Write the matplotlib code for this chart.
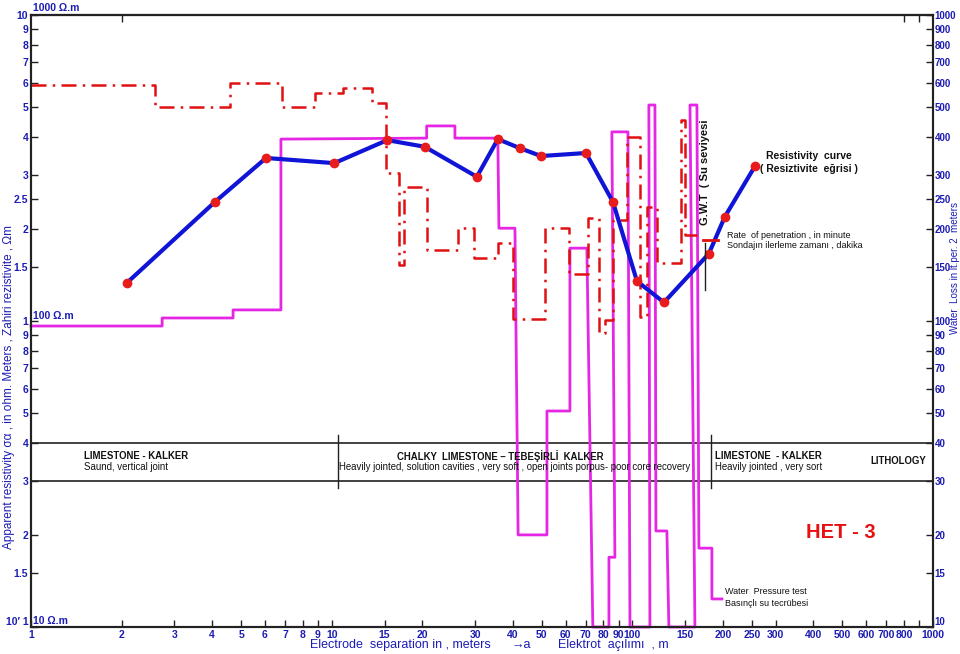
import matplotlib
matplotlib.use("Agg")
import matplotlib.pyplot as plt

plt.rcParams["font.family"] = ["Liberation Sans", "DejaVu Sans"]

BLUE_TXT = "#1c1cb4"
CURVE = "#0f14d6"
DOT = "#e81c1c"
RED = "#e01010"
MAGENTA = "#e526e5"

# apparent resistivity sounding (electrode spacing a, ohm.m)
spacing = [2.08, 4.09, 6.05, 10.2, 15.3, 20.4, 30.4, 35.7, 42.3, 49.7, 70.1, 86.2,
           103.6, 127.4, 179.7, 203, 256]
resistivity = [133, 245, 341, 328, 390, 371, 296, 393, 367, 346, 354, 245,
               135, 115, 166, 219, 321]

# rate of penetration, step curve: depth edges and level per step
pen_edges = [1, 2.585, 4.59, 6.83, 8.80, 10.9, 13.6, 15.2, 16.7, 17.4, 20.7, 26.3, 29.7,
             35.7, 40.1, 51.2, 61.5, 71.2, 77.4, 81.1, 86.2, 95.9, 106, 111.8, 120.7,
             145, 149.6, 164]
pen_rate = [590, 500, 600, 500, 556, 577, 516, 304, 152, 274, 171, 201, 161, 180,
            101.5, 201, 142, 217, 91.4, 100.7, 214, 399, 103, 236, 155, 454, 191]

# water pressure test, water loss (lt per 2 m)
wp_depth = [1, 2.73, 2.73, 4.70, 4.70, 6.78, 6.78, 20.7, 20.7, 25.7, 25.7, 35.7, 36.0,
            40.7, 41.7, 52.0, 52.0, 62.0, 62.0, 70.6, 73.9, 83.6, 83.6, 87.5, 85.5, 96.7,
            98.2, 114.4, 113.5, 118.9, 119.8, 130.3, 132.3, 161.5, 155.5, 164, 166.5,
            183.9, 183.9, 198.6]
wp_loss = [96.3, 96.3, 102.3, 102.3, 108.7, 108.7, 393, 396, 434, 434, 396, 396, 201,
           201, 20.0, 20.0, 50.8, 50.8, 173, 173, 10, 10, 16.9, 16.9, 415, 415, 10, 10,
           508, 508, 20.6, 20.6, 10, 10, 508, 508, 18.1, 18.1, 12.35, 12.35]

litho_band = [30, 40]
litho_breaks = [10.5, 182]
litho_span = [28.5, 42.4]

# legend sample for the penetration curve and the ground water table mark
pen_key_x = [172, 193]
pen_key_y = [184, 184]
gwt_x = [174, 174]
gwt_y = [126, 180]

x_ticks = [1, 2, 3, 4, 5, 6, 7, 8, 9, 10, 15, 20, 30, 40, 50, 60, 70, 80, 90, 100, 150,
           200, 250, 300, 400, 500, 600, 700, 800, 900, 1000]
x_labels = [str(t) if t != 900 else "" for t in x_ticks]
y_ticks = [10, 15, 20, 30, 40, 50, 60, 70, 80, 90, 100, 150, 200, 250, 300, 400, 500,
           600, 700, 800, 900, 1000]
y_left_labels = ["10\u2032 1", "1.5", "2", "3", "4", "5", "6", "7", "8", "9", "1", "1.5",
                 "2", "2.5", "3", "4", "5", "6", "7", "8", "9", "10"]
y_right_labels = [str(t) for t in y_ticks]

W, H = 960, 654
NARROW = ["Liberation Sans Narrow", "Liberation Sans", "DejaVu Sans"]


def at(x, y):
    return x / W, 1 - y / H


def tick_font(labels, size=7.5):
    for lab in labels:
        lab.set_fontweight("bold")
        lab.set_family(NARROW)
        lab.set_fontsize(size)


fig = plt.figure(figsize=(9.6, 6.54), dpi=100)
ax = fig.add_axes([31 / W, 1 - 627 / H, 902 / W, 612 / H])
ax.set_xscale("log")
ax.set_yscale("log")
ax.set_xlim(1, 1000)
ax.set_ylim(10, 1000)

# lithology band
for v in litho_band:
    ax.axhline(v, color="#222222", lw=1.2)
for b in litho_breaks:
    ax.plot([b, b], litho_span, color="#222222", lw=1.0)

ax.plot(wp_depth, wp_loss, color=MAGENTA, lw=2, clip_on=False, zorder=3)
ax.plot(pen_edges, pen_rate + [pen_rate[-1]], drawstyle="steps-post", color=RED, lw=1.8,
        linestyle=(0, (6, 2.5, 1, 2.5)), zorder=4)
ax.plot(spacing, resistivity, color=CURVE, lw=3, zorder=5)
ax.plot(spacing, resistivity, "o", color=DOT, ms=6, zorder=6)

ax.plot(pen_key_x, pen_key_y, color=RED, lw=2, zorder=6)
ax.plot(gwt_x, gwt_y, color="#222222", lw=1.0, zorder=6)

ax.set_xticks(x_ticks)
ax.set_xticklabels(x_labels)
ax.xaxis.set_minor_locator(matplotlib.ticker.NullLocator())
ax.set_yticks(y_ticks)
ax.set_yticklabels(y_left_labels)
ax.yaxis.set_minor_locator(matplotlib.ticker.NullLocator())
ax.tick_params(direction="in", length=5, width=1, pad=2,
               labelcolor=BLUE_TXT, color="#222222")
tick_font(ax.get_xticklabels() + ax.get_yticklabels())
ax.get_yticklabels()[0].set_va("bottom")

right = ax.twinx()
right.set_yscale("log")
right.set_ylim(10, 1000)
right.set_yticks(y_ticks)
right.set_yticklabels(y_right_labels)
right.yaxis.set_minor_locator(matplotlib.ticker.NullLocator())
right.tick_params(direction="in", length=5, width=1, pad=1,
                  labelcolor=BLUE_TXT, color="#222222")
tick_font(right.get_yticklabels(), 7)
right.get_yticklabels()[0].set_va("bottom")

top = ax.secondary_xaxis("top")
top.set_xticks([2, 800, 900])
top.set_xticklabels([])
top.tick_params(direction="in", length=5, width=1, color="#222222")
top.xaxis.set_minor_locator(matplotlib.ticker.NullLocator())

for s in list(ax.spines.values()) + list(right.spines.values()) + list(top.spines.values()):
    s.set_color("#222222")
    s.set_linewidth(1.5)

# scale captions
for x, y, t in ((33, 8, "1000 \u03a9.m"), (33, 316, "100 \u03a9.m"), (33, 621, "10 \u03a9.m")):
    fig.text(*at(x, y), t, color=BLUE_TXT, fontsize=7.5, fontweight="bold", va="center")

# axis titles
fig.text(*at(9, 387), "Apparent resistivity \u03c3\u03b1 , in ohm. Meters , Zahiri rezistivite , \u03a9m",
         rotation=90, ha="center", va="center", color=BLUE_TXT, fontsize=8.5)
fig.text(*at(960, 268), "Water  Loss in lt.per. 2  meters", rotation=90, ha="right",
         va="center", color=BLUE_TXT, fontsize=7)
fig.text(*at(310, 645), "Electrode  separation in , meters", color=BLUE_TXT, fontsize=9, va="center")
fig.text(*at(512, 645), "\u2192a", color=BLUE_TXT, fontsize=9, va="center")
fig.text(*at(558, 645), "Elektrot  a\u00e7\u0131l\u0131m\u0131  , m", color=BLUE_TXT, fontsize=9, va="center")

# lithology descriptions
lt = dict(color="#111111", fontsize=6.9, family=NARROW, va="center")
fig.text(*at(84, 456), "LIMESTONE - KALKER", fontweight="bold", **lt)
fig.text(*at(84, 467), "Saund, vertical joint", **lt)
fig.text(*at(500, 456), "CHALKY  LIMESTONE \u2013 TEBE\u015e\u0130RL\u0130  KALKER", fontweight="bold", ha="center", **lt)
fig.text(*at(515, 467), "Heavily jointed, solution cavities , very soft , open joints porpus- poor core recovery",
         ha="center", **lt)
fig.text(*at(715, 456), "LIMESTONE  - KALKER", fontweight="bold", **lt)
fig.text(*at(715, 467), "Heavily jointed , very sort", **lt)
fig.text(*at(870, 461), "LITHOLOGY", fontweight="bold", **lt)

# curve captions
cap = dict(color="#111111", fontsize=7.5, va="center")
fig.text(*at(766, 156), "Resistivity  curve", fontweight="bold", **cap)
fig.text(*at(760, 169), "( Resiztivite  e\u011frisi )", fontweight="bold", **cap)
fig.text(*at(727, 236), "Rate  of penetration , in minute", fontsize=6.5, color="#111111", va="center")
fig.text(*at(727, 246), "Sondaj\u0131n ilerleme zaman\u0131 , dakika", fontsize=6.5, color="#111111", va="center")
fig.text(*at(725, 592), "Water  Pressure test", fontsize=6.5, color="#111111", va="center")
fig.text(*at(725, 604), "Bas\u0131n\u00e7l\u0131 su tecr\u00fcbesi", fontsize=6.5, color="#111111", va="center")
fig.text(*at(705, 172), "G.W.T  ( Su seviyesi", rotation=90, ha="center", va="center",
         fontsize=8, fontweight="bold", color="#111111")
fig.text(*at(841, 533), "HET - 3", color="#e81010", fontsize=14.5, fontweight="bold",
         ha="center", va="center")

fig.savefig("out.png", dpi=100)
